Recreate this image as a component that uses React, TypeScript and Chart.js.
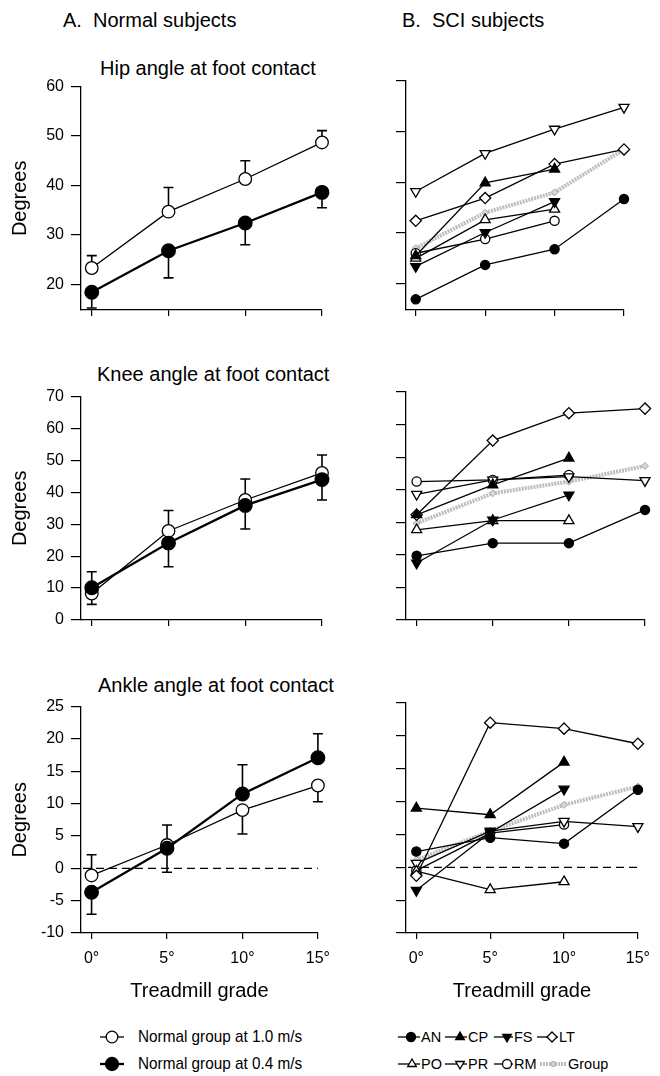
import React, { useEffect, useRef } from "react";
import { Chart, registerables } from "chart.js";

Chart.register(...registerables);

const FONT = '"Liberation Sans", Arial, Helvetica, sans-serif';

// ---------- categories / ticks ----------
const grades = [0, 5, 10, 15];
const gradeTickLabels = ["0°", "5°", "10°", "15°"];
const hipTicks = [20, 30, 40, 50, 60];
const kneeTicks = [0, 10, 20, 30, 40, 50, 60, 70];
const ankleTicks = [-10, -5, 0, 5, 10, 15, 20, 25];

// ---------- A. Normal subjects (means and error-bar end values) ----------
const hipNormal10 = [23.3, 34.7, 41.3, 48.7];
const hipNormal10Err = [25.8, 39.6, 45.0, 51.1];
const hipNormal04 = [18.4, 26.8, 32.4, 38.6];
const hipNormal04Err = [15.2, 21.3, 28.0, 35.5];

const kneeNormal10 = [8.3, 27.9, 37.6, 46.1];
const kneeNormal10Err = [4.9, 34.3, 44.2, 51.7];
const kneeNormal04 = [10.1, 24.1, 35.9, 44.0];
const kneeNormal04Err = [15.1, 16.7, 28.5, 37.6];

const ankleNormal10 = [-1.1, 3.6, 9.0, 12.8];
const ankleNormal10Err = [2.1, 6.7, 5.3, 10.3];
const ankleNormal04 = [-3.7, 3.1, 11.5, 17.1];
const ankleNormal04Err = [-7.1, -0.6, 16.0, 20.8];

// ---------- B. SCI subjects ----------
const hipAN = [16.9, 23.7, 26.8, 36.7];
const hipCP = [25.5, 39.9, 42.6, null];
const hipFS = [23.4, 30.1, 36.2, null];
const hipLT = [32.4, 36.9, 43.6, 46.5];
const hipPO = [25.0, 32.6, 34.7, null];
const hipPR = [38.2, 45.7, 50.5, 54.8];
const hipRM = [26.0, 28.8, 32.4, null];
const hipGroup = [27.0, 34.0, 38.0, 46.5];

const kneeAN = [19.7, 23.6, 23.6, 33.8];
const kneeCP = [32.3, 41.5, 49.7, null];
const kneeFS = [17.5, 30.7, 38.4, null];
const kneeLT = [32.3, 55.1, 63.5, 64.9];
const kneePO = [27.7, 30.5, 30.5, null];
const kneePR = [38.6, 43.0, 44.0, 42.8];
const kneeRM = [42.5, 43.0, 44.5, null];
const kneeGroup = [29.7, 38.9, 42.5, 47.3];

const ankleAN = [2.4, 4.5, 3.6, 11.8];
const ankleCP = [9.0, 8.0, 16.0, null];
const ankleFS = [-3.5, 5.3, 11.9, null];
const ankleLT = [-1.3, 22.0, 21.1, 18.8];
const anklePO = [-0.6, -3.4, -2.2, null];
const anklePR = [0.6, 5.5, 7.0, 6.2];
const ankleRM = [-0.5, 5.2, 6.5, null];
const ankleGroup = [1.1, 5.5, 9.5, 12.3];

// ---------- styles ----------
type Shape = "circle" | "triUp" | "triDown" | "diamond" | "group";
type Style = { shape: Shape; filled: boolean; lineWidth: number; radius: number };

const normalOpen: Style = { shape: "circle", filled: false, lineWidth: 1.3, radius: 6.3 };
const normalFilled: Style = { shape: "circle", filled: true, lineWidth: 2.3, radius: 6.8 };
const sAN: Style = { shape: "circle", filled: true, lineWidth: 1.3, radius: 4.6 };
const sCP: Style = { shape: "triUp", filled: true, lineWidth: 1.3, radius: 5.8 };
const sFS: Style = { shape: "triDown", filled: true, lineWidth: 1.3, radius: 5.8 };
const sLT: Style = { shape: "diamond", filled: false, lineWidth: 1.3, radius: 5.6 };
const sPO: Style = { shape: "triUp", filled: false, lineWidth: 1.3, radius: 5.8 };
const sPR: Style = { shape: "triDown", filled: false, lineWidth: 1.3, radius: 5.8 };
const sRM: Style = { shape: "circle", filled: false, lineWidth: 1.3, radius: 4.6 };
const sGroup: Style = { shape: "group", filled: false, lineWidth: 4, radius: 3.5 };

type Series = { values: (number | null)[]; style: Style };
type ErrBar = { values: number[]; ends: number[] };

function makeDataset(s: Series) {
  const st = s.style;
  const isGroup = st.shape === "group";
  const ps =
    st.shape === "circle" ? "circle" : st.shape === "diamond" || isGroup ? "rectRot" : "triangle";
  return {
    data: s.values.map((v, i) => ({ x: grades[i], y: v })),
    borderColor: isGroup ? "#bdbdbd" : "#000",
    borderWidth: st.lineWidth,
    borderDash: isGroup ? [2, 1] : [],
    pointStyle: ps,
    pointRotation: st.shape === "triDown" ? 180 : 0,
    pointRadius: st.radius,
    pointBorderWidth: isGroup ? 1 : 1.3,
    pointBackgroundColor: isGroup ? "#d6d6d6" : st.filled ? "#000" : "#fff",
    pointBorderColor: isGroup ? "#a8a8a8" : "#000",
    tension: 0,
    clip: false,
    spanGaps: false,
  };
}

type PanelProps = {
  left: number;
  top: number;
  width: number;
  height: number;
  padTop: number;
  padRight: number;
  yAxisWidth: number;
  xAxisHeight: number;
  yMin: number;
  yMax: number;
  yTicks: number[];
  showYLabels: boolean;
  showXLabels: boolean;
  series: Series[];
  errBars?: ErrBar[];
  zeroLine?: boolean;
};

function Panel(p: PanelProps) {
  const ref = useRef<HTMLCanvasElement>(null);
  useEffect(() => {
    const canvas = ref.current;
    if (!canvas) return;
    const tickFont = { family: FONT, size: 16 };
    const titleFont = { family: FONT, size: 20 };
    const overlay = {
      id: "overlay",
      beforeDatasetsDraw(chart: any) {
        const { ctx, chartArea } = chart;
        const xs = chart.scales.x;
        const ys = chart.scales.y;
        ctx.save();
        if (p.zeroLine) {
          const y0 = ys.getPixelForValue(0);
          ctx.strokeStyle = "#000";
          ctx.lineWidth = 1.2;
          ctx.setLineDash([8, 5]);
          ctx.beginPath();
          ctx.moveTo(chartArea.left + 2, y0);
          ctx.lineTo(chartArea.right, y0);
          ctx.stroke();
          ctx.setLineDash([]);
        }
        (p.errBars || []).forEach((eb) => {
          eb.values.forEach((v, i) => {
            const x = xs.getPixelForValue(grades[i]);
            const y1 = ys.getPixelForValue(v);
            const y2 = ys.getPixelForValue(eb.ends[i]);
            ctx.strokeStyle = "#000";
            ctx.lineWidth = 1.6;
            ctx.beginPath();
            ctx.moveTo(x, y1);
            ctx.lineTo(x, y2);
            ctx.moveTo(x - 5, y2);
            ctx.lineTo(x + 5, y2);
            ctx.stroke();
          });
        });
        ctx.restore();
      },
    };
    const chart = new Chart(canvas, {
      type: "line",
      data: { datasets: p.series.map(makeDataset) as any },
      options: {
        animation: false,
        responsive: false,
        maintainAspectRatio: false,
        events: [],
        layout: { padding: { left: 0, top: p.padTop, right: p.padRight, bottom: 0 } },
        plugins: {
          legend: { display: false },
          tooltip: { enabled: false },
          title: { display: false },
        },
        scales: {
          x: {
            type: "linear",
            min: -0.7,
            max: 15,
            afterBuildTicks: (s: any) => {
              s.ticks = grades.map((v) => ({ value: v }));
            },
            afterFit: (s: any) => {
              s.height = p.xAxisHeight;
            },
            ticks: {
              display: p.showXLabels,
              autoSkip: false,
              maxRotation: 0,
              padding: 10,
              color: "#000",
              font: tickFont,
              callback: (_v: any, i: number) => gradeTickLabels[i],
            },
            grid: {
              drawOnChartArea: false,
              drawTicks: true,
              tickLength: 6,
              color: "#000",
              lineWidth: 1.2,
            },
            border: { display: true, color: "#000", width: 1.3 },
            title: {
              display: p.showXLabels,
              text: "Treadmill grade",
              color: "#000",
              font: titleFont,
              padding: { top: 0, bottom: 7 },
            },
          },
          y: {
            type: "linear",
            min: p.yMin,
            max: p.yMax,
            afterBuildTicks: (s: any) => {
              s.ticks = p.yTicks.map((v) => ({ value: v }));
            },
            afterFit: (s: any) => {
              s.width = p.yAxisWidth;
            },
            ticks: {
              display: p.showYLabels,
              autoSkip: false,
              padding: 7,
              color: "#000",
              font: tickFont,
            },
            grid: {
              drawOnChartArea: false,
              drawTicks: true,
              tickLength: 10,
              color: "#000",
              lineWidth: 1.2,
            },
            border: { display: true, color: "#000", width: 1.3 },
            title: {
              display: p.showYLabels,
              text: "Degrees",
              color: "#000",
              font: titleFont,
              padding: { top: 8, bottom: 0 },
            },
          },
        },
      } as any,
      plugins: [overlay],
    });
    return () => chart.destroy();
  }, []);
  return (
    <canvas
      ref={ref}
      width={p.width}
      height={p.height}
      style={{ position: "absolute", left: p.left, top: p.top, width: p.width, height: p.height }}
    />
  );
}

function Text({ x, y, size, children }: { x: number; y: number; size: number; children: any }) {
  return (
    <div
      style={{
        position: "absolute",
        left: x,
        top: y - size / 2,
        fontSize: size,
        lineHeight: `${size}px`,
        whiteSpace: "pre",
        fontFamily: FONT,
        color: "#000",
      }}
    >
      {children}
    </div>
  );
}

function Sym({ x, y, w, mx, st }: { x: number; y: number; w: number; mx: number; st: Style }) {
  const h = 18;
  const cy = h / 2;
  const r = st.radius;
  const fill = st.filled ? "#000" : "#fff";
  let marker: any = null;
  if (st.shape === "circle") {
    marker = <circle cx={mx} cy={cy} r={r} fill={fill} stroke="#000" strokeWidth={1.3} />;
  } else if (st.shape === "triUp" || st.shape === "triDown") {
    const s = st.shape === "triUp" ? 1 : -1;
    const pts = [
      [mx, cy - s * r],
      [mx - r * 0.866, cy + (s * r) / 2],
      [mx + r * 0.866, cy + (s * r) / 2],
    ]
      .map((q) => q.join(","))
      .join(" ");
    marker = <polygon points={pts} fill={fill} stroke="#000" strokeWidth={1.3} />;
  } else if (st.shape === "diamond") {
    const pts = [
      [mx, cy - r],
      [mx + r, cy],
      [mx, cy + r],
      [mx - r, cy],
    ]
      .map((q) => q.join(","))
      .join(" ");
    marker = <polygon points={pts} fill={fill} stroke="#000" strokeWidth={1.3} />;
  } else {
    marker = <circle cx={mx} cy={cy} r={2.5} fill="#d6d6d6" stroke="#a8a8a8" strokeWidth={1} />;
  }
  const isGroup = st.shape === "group";
  return (
    <svg
      width={w}
      height={h}
      style={{ position: "absolute", left: x, top: y - h / 2, overflow: "visible" }}
    >
      <line
        x1={0}
        y1={cy}
        x2={w}
        y2={cy}
        stroke={isGroup ? "#bdbdbd" : "#000"}
        strokeWidth={isGroup ? 4 : st.lineWidth}
        strokeDasharray={isGroup ? "2 1" : undefined}
      />
      {marker}
    </svg>
  );
}

const colA = { left: 0, width: 340, yAxisWidth: 81, padRight: 18, showYLabels: true };
const colB = { left: 330, width: 330, yAxisWidth: 76, padRight: 15, showYLabels: false };
const rowHip = { top: 70, height: 260, padTop: 11, xAxisHeight: 20, showXLabels: false };
const rowKnee = { top: 380, height: 260, padTop: 12, xAxisHeight: 20, showXLabels: false };
const rowAnkle = { top: 690, height: 320, padTop: 13, xAxisHeight: 77, showXLabels: true };

export default function App() {
  const hipB: Series[] = [
    { values: hipAN, style: sAN },
    { values: hipCP, style: sCP },
    { values: hipFS, style: sFS },
    { values: hipLT, style: sLT },
    { values: hipPO, style: sPO },
    { values: hipPR, style: sPR },
    { values: hipRM, style: sRM },
    { values: hipGroup, style: sGroup },
  ];
  const kneeB: Series[] = [
    { values: kneeAN, style: sAN },
    { values: kneeCP, style: sCP },
    { values: kneeFS, style: sFS },
    { values: kneeLT, style: sLT },
    { values: kneePO, style: sPO },
    { values: kneePR, style: sPR },
    { values: kneeRM, style: sRM },
    { values: kneeGroup, style: sGroup },
  ];
  const ankleB: Series[] = [
    { values: ankleAN, style: sAN },
    { values: ankleCP, style: sCP },
    { values: ankleFS, style: sFS },
    { values: ankleLT, style: sLT },
    { values: anklePO, style: sPO },
    { values: anklePR, style: sPR },
    { values: ankleRM, style: sRM },
    { values: ankleGroup, style: sGroup },
  ];
  return (
    <div
      style={{
        position: "absolute",
        left: 0,
        top: 0,
        width: 660,
        height: 1076,
        background: "#fff",
        overflow: "hidden",
        fontFamily: FONT,
      }}
    >
      <Text x={63} y={20} size={20}>{"A.  Normal subjects"}</Text>
      <Text x={402} y={20} size={20}>{"B.  SCI subjects"}</Text>
      <Text x={100} y={67.5} size={20}>Hip angle at foot contact</Text>
      <Text x={97} y={373.5} size={20}>Knee angle at foot contact</Text>
      <Text x={98} y={685} size={20}>Ankle angle at foot contact</Text>

      <Panel
        {...colA}
        {...rowHip}
        yMin={14.8}
        yMax={60}
        yTicks={hipTicks}
        series={[
          { values: hipNormal04, style: normalFilled },
          { values: hipNormal10, style: normalOpen },
        ]}
        errBars={[
          { values: hipNormal10, ends: hipNormal10Err },
          { values: hipNormal04, ends: hipNormal04Err },
        ]}
      />
      <Panel {...colB} {...rowHip} padRight={36} yMin={14.8} yMax={60} yTicks={hipTicks} series={hipB} />

      <Panel
        {...colA}
        {...rowKnee}
        yMin={0}
        yMax={70}
        yTicks={kneeTicks}
        series={[
          { values: kneeNormal04, style: normalFilled },
          { values: kneeNormal10, style: normalOpen },
        ]}
        errBars={[
          { values: kneeNormal10, ends: kneeNormal10Err },
          { values: kneeNormal04, ends: kneeNormal04Err },
        ]}
      />
      <Panel {...colB} {...rowKnee} yMin={0} yMax={70} yTicks={kneeTicks} series={kneeB} />

      <Panel
        {...colA}
        {...rowAnkle}
        yMin={-10}
        yMax={25}
        yTicks={ankleTicks}
        zeroLine
        series={[
          { values: ankleNormal04, style: normalFilled },
          { values: ankleNormal10, style: normalOpen },
        ]}
        errBars={[
          { values: ankleNormal10, ends: ankleNormal10Err },
          { values: ankleNormal04, ends: ankleNormal04Err },
        ]}
      />
      <Panel {...colB} {...rowAnkle} yMin={-10} yMax={25} yTicks={ankleTicks} zeroLine series={ankleB} />

      {/* Legend A */}
      <Sym x={100} y={1037} w={24} mx={12} st={{ ...normalOpen, radius: 5.8 }} />
      <div style={{ position: "absolute", left: 138, top: 1037 - 9, fontSize: 17, lineHeight: "18px", whiteSpace: "pre", transform: "scaleX(0.9)", transformOrigin: "left center" }}>
        Normal group at 1.0 m/s
      </div>
      <Sym x={100} y={1064} w={24} mx={12} st={{ ...normalFilled, radius: 6.5 }} />
      <div style={{ position: "absolute", left: 138, top: 1064 - 9, fontSize: 17, lineHeight: "18px", whiteSpace: "pre", transform: "scaleX(0.9)", transformOrigin: "left center" }}>
        Normal group at 0.4 m/s
      </div>

      {/* Legend B */}
      <Sym x={398} y={1037} w={22} mx={13} st={{ ...sAN, radius: 4.5 }} />
      <Text x={421} y={1037} size={14.5}>AN</Text>
      <Sym x={445} y={1037} w={22} mx={15} st={{ ...sCP, radius: 5 }} />
      <Text x={468} y={1037} size={14.5}>CP</Text>
      <Sym x={494} y={1037} w={19} mx={13} st={{ ...sFS, radius: 5 }} />
      <Text x={514} y={1037} size={14.5}>FS</Text>
      <Sym x={537} y={1037} w={21} mx={15} st={{ ...sLT, radius: 5 }} />
      <Text x={559} y={1037} size={14.5}>LT</Text>

      <Sym x={398} y={1064} w={22} mx={14} st={{ ...sPO, radius: 5 }} />
      <Text x={421} y={1064} size={14.5}>PO</Text>
      <Sym x={445} y={1064} w={22} mx={15} st={{ ...sPR, radius: 5 }} />
      <Text x={468} y={1064} size={14.5}>PR</Text>
      <Sym x={494} y={1064} w={19} mx={13} st={{ ...sRM, radius: 4.5 }} />
      <Text x={514} y={1064} size={14.5}>RM</Text>
      <Sym x={540} y={1064} w={26} mx={13} st={sGroup} />
      <Text x={568} y={1064} size={14.5}>Group</Text>
    </div>
  );
}
